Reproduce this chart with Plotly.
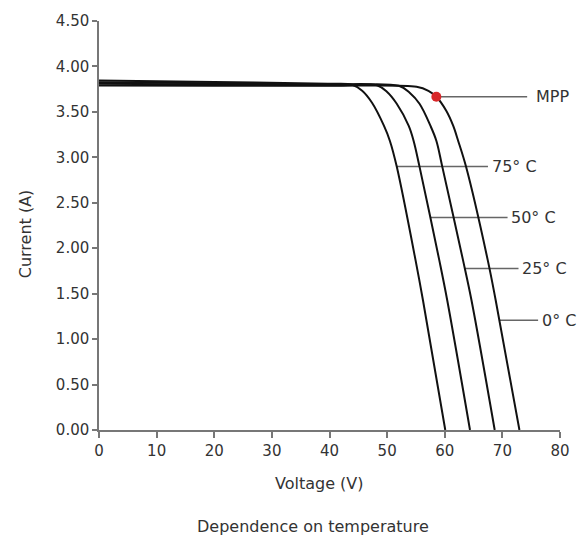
import plotly.graph_objects as go

# ---- data ----
v_75 = [0, 20, 39.7, 43.95, 45.67, 47.38, 49.44, 50.47, 51.67, 54.94, 56.22, 60.09]
i_75 = [3.845, 3.830, 3.809, 3.798, 3.732, 3.600, 3.348, 3.183, 2.898, 1.866, 1.427, 0.0]

v_50 = [0, 20, 39.7, 48.24, 49.96, 51.67, 53.73, 54.59, 55.62, 59.06, 60.43, 64.38]
i_50 = [3.827, 3.815, 3.798, 3.792, 3.721, 3.589, 3.348, 3.183, 2.898, 1.866, 1.427, 0.0]

v_25 = [0, 20, 39.7, 52.02, 53.91, 55.62, 57.51, 58.54, 59.57, 63.18, 64.64, 68.67]
i_25 = [3.809, 3.800, 3.792, 3.787, 3.710, 3.589, 3.348, 3.183, 2.898, 1.866, 1.427, 0.0]

v_0 = [0, 20, 39.7, 55.11, 57.17, 58.54, 60.26, 61.46, 62.32, 63.69, 67.47, 68.84, 72.96]
i_0 = [3.790, 3.787, 3.787, 3.776, 3.732, 3.666, 3.512, 3.348, 3.183, 2.898, 1.866, 1.427, 0.0]

mpp_v = 58.54
mpp_i = 3.666

label_text = ["MPP", "75° C", "50° C", "25° C", "0° C"]
label_i = [3.666, 2.898, 2.338, 1.778, 1.207]
label_v_start = [58.54, 51.67, 57.5, 63.47, 69.48]
label_v_end = [74.3, 67.5, 70.9, 72.8, 76.2]
label_text_v = [75.5, 67.9, 71.1, 73.1, 76.5]

x_ticks = [0, 10, 20, 30, 40, 50, 60, 70, 80]
y_ticks = [0.0, 0.5, 1.0, 1.5, 2.0, 2.5, 3.0, 3.5, 4.0, 4.5]

FONT = "DejaVu Sans"
TXT = "#333333"
AXC = "#777777"

fig = go.Figure()

# leader lines
for yi, v0, v1 in zip(label_i, label_v_start, label_v_end):
    fig.add_trace(go.Scatter(x=[v0, v1], y=[yi, yi], mode="lines",
                             line=dict(color="#666666", width=1.5),
                             showlegend=False, hoverinfo="skip"))

for vv, ii in [(v_0, i_0), (v_25, i_25), (v_50, i_50), (v_75, i_75)]:
    fig.add_trace(go.Scatter(x=vv, y=ii, mode="lines",
                             line=dict(color="#111111", width=2, shape="spline", smoothing=1.0),
                             showlegend=False, cliponaxis=False))

fig.add_trace(go.Scatter(x=[mpp_v], y=[mpp_i], mode="markers",
                         marker=dict(color="#d8282a", size=10),
                         showlegend=False))

for t, yi, tv in zip(label_text, label_i, label_text_v):
    fig.add_annotation(x=tv, y=yi, text=t, showarrow=False, xanchor="left",
                       yanchor="middle",
                       font=dict(family=FONT, size=16, color=TXT))

fig.add_annotation(xref="paper", yref="paper", x=(322 - 99) / 466, y=-54 / 410,
                   text="Voltage (V)", showarrow=False, xanchor="center", yanchor="middle",
                   font=dict(family=FONT, size=16, color=TXT))
fig.add_annotation(xref="paper", yref="paper", x=(315 - 99) / 466, y=-97 / 410,
                   text="Dependence on temperature", showarrow=False, xanchor="center",
                   yanchor="middle", font=dict(family=FONT, size=16, color=TXT))
fig.add_annotation(xref="paper", yref="paper", x=(25 - 99) / 466, y=(430 - 233) / 410,
                   text="Current (A)", showarrow=False, xanchor="center", yanchor="middle",
                   textangle=-90, font=dict(family=FONT, size=16, color=TXT))

fig.update_xaxes(range=[0, 80], tickvals=x_ticks, ticktext=[str(v) for v in x_ticks],
                 showgrid=False, zeroline=False, showline=True, linecolor=AXC, linewidth=1.5,
                 ticks="outside", ticklen=6, tickcolor=AXC, tickwidth=1.5,
                 tickfont=dict(family=FONT, size=15, color=TXT))
fig.update_yaxes(range=[0, 4.5], tickvals=y_ticks, ticktext=[f"{v:.2f}" for v in y_ticks],
                 showgrid=False, zeroline=False, showline=True, linecolor=AXC, linewidth=1.5,
                 ticks="outside", ticklen=5, tickcolor=AXC, tickwidth=1.5,
                 tickfont=dict(family=FONT, size=15, color=TXT))

fig.update_layout(width=582, height=538, margin=dict(l=99, r=17, t=20, b=108),
                  plot_bgcolor="white", paper_bgcolor="white", showlegend=False)

# remove the default 8px page margin so the figure fills the window exactly
fig.write_html("out.html", config={"displayModeBar": False},
               post_script="document.body.style.margin='0px';document.body.style.overflow='hidden';")
